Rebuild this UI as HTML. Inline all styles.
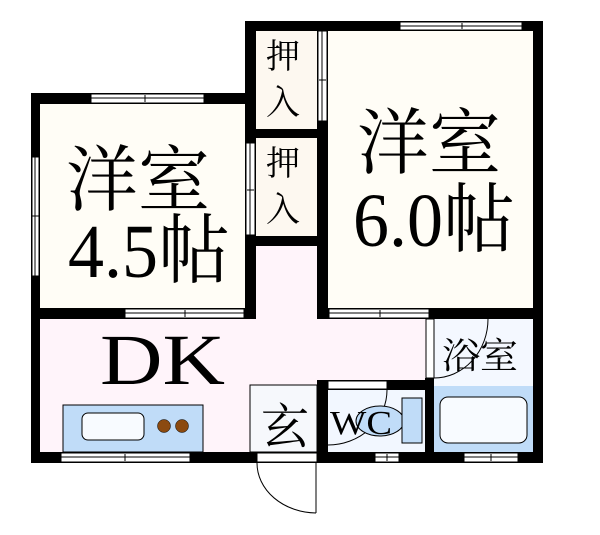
<!DOCTYPE html>
<html><head><meta charset="utf-8"><style>
html,body{margin:0;padding:0;background:#fff;}
svg{display:block;}
.j{font-family:"Liberation Serif","Noto Serif CJK SC",serif;fill:#000;}
</style></head><body>
<svg width="600" height="535" viewBox="0 0 600 535" xmlns="http://www.w3.org/2000/svg">
<rect x="40" y="104" width="205" height="204" fill="#fffdf6"/>
<rect x="328" y="31" width="205" height="277" fill="#fffdf6"/>
<rect x="256" y="31" width="61" height="98" fill="#fdf8f0"/>
<rect x="256" y="138" width="61" height="98" fill="#fdf8f0"/>
<rect x="40" y="319" width="386" height="133" fill="#fff4fa"/>
<rect x="256" y="246" width="61" height="73" fill="#fff4fa"/>
<rect x="434" y="319" width="99" height="67" fill="#f4f8ff"/>
<rect x="434" y="386" width="99" height="66" fill="#c0dcf8"/>
<rect x="328" y="390" width="97" height="62" fill="#f2f7ff"/>
<rect x="250" y="385" width="67" height="67" fill="#f6f8fc" stroke="#000" stroke-width="1"/>

<g fill="#000">
<rect x="245" y="21" width="298" height="10"/>
<rect x="31" y="93" width="225" height="11"/>
<rect x="31" y="93" width="9" height="370"/>
<rect x="31" y="452" width="512" height="11"/>
<rect x="533" y="21" width="10" height="442"/>
<rect x="245" y="21" width="11" height="298"/>
<rect x="256" y="129" width="61" height="9"/>
<rect x="245" y="236" width="83" height="10"/>
<rect x="317" y="21" width="11" height="298"/>
<rect x="31" y="308" width="225" height="11"/>
<rect x="317" y="308" width="226" height="11"/>
<rect x="425" y="378" width="9" height="74"/>
<rect x="317" y="380" width="117" height="10"/>
<rect x="317" y="380" width="11" height="83"/>
</g>

<g fill="#fff" stroke="#000" stroke-width="1">
<rect x="91" y="94" width="113" height="9"/>
<rect x="32" y="157" width="7" height="119"/>
<rect x="400" y="22" width="122" height="8"/>
<rect x="125" y="309" width="119" height="9"/>
<rect x="329" y="309" width="100" height="9"/>
<rect x="246" y="143" width="9" height="92"/>
<rect x="318" y="31" width="9" height="90"/>
<rect x="61" y="453" width="129" height="9"/>
<rect x="375" y="453" width="24" height="9"/>
<rect x="464" y="453" width="54" height="9"/>
<rect x="257" y="453" width="60" height="9"/>
<rect x="328" y="381" width="59" height="8"/>
<rect x="426" y="319" width="8" height="59"/>
</g>
<g stroke="#000" stroke-width="1" fill="none">
<line x1="91" y1="98" x2="204" y2="98"/><line x1="145" y1="95" x2="145" y2="102"/>
<line x1="35" y1="157" x2="35" y2="276"/><line x1="32" y1="216" x2="39" y2="216"/>
<line x1="400" y1="26" x2="522" y2="26"/><line x1="462" y1="23" x2="462" y2="29"/>
<line x1="125" y1="313" x2="244" y2="313"/><line x1="185" y1="310" x2="185" y2="317"/>
<line x1="329" y1="313" x2="429" y2="313"/><line x1="380" y1="310" x2="380" y2="317"/>
<line x1="250" y1="143" x2="250" y2="235"/><line x1="247" y1="190" x2="254" y2="190"/>
<line x1="322" y1="31" x2="322" y2="121"/><line x1="319" y1="80" x2="326" y2="80"/>
<line x1="61" y1="457" x2="190" y2="457"/><line x1="125" y1="454" x2="125" y2="461"/>
<line x1="375" y1="457" x2="399" y2="457"/><line x1="387" y1="454" x2="387" y2="461"/>
<line x1="464" y1="457" x2="518" y2="457"/><line x1="491" y1="454" x2="491" y2="461"/>
<path d="M257 463 A60 50 0 0 0 316 513"/><line x1="316" y1="463" x2="316" y2="513"/>
<path d="M387 390 A59 55 0 0 1 328 445"/>
<path d="M488 319 A54 59 0 0 1 434 378"/>
</g>

<rect x="63" y="405" width="140" height="47" fill="#c0dcf8" stroke="#000" stroke-width="1"/>
<rect x="82" y="413" width="62" height="27" rx="6" fill="#f8fbff" stroke="#000" stroke-width="1"/>
<circle cx="164" cy="426" r="6.5" fill="#8b4a10" stroke="#000" stroke-width="0.5"/>
<circle cx="182" cy="426" r="6.5" fill="#8b4a10" stroke="#000" stroke-width="0.5"/>
<rect x="440" y="397" width="87" height="46" rx="8" fill="#f8fbff" stroke="#000" stroke-width="1"/>
<ellipse cx="380" cy="421" rx="24" ry="15" fill="#c0dcf8" stroke="#000" stroke-width="1"/>
<rect x="402" y="398" width="20" height="45" fill="#c0dcf8" stroke="#000" stroke-width="1"/>

<text class="j" x="66" y="205" font-size="72">洋室</text>
<text class="j" x="68" y="277" font-size="76" textLength="162" lengthAdjust="spacingAndGlyphs">4.5帖</text>
<text class="j" x="357" y="168" font-size="72">洋室</text>
<text class="j" x="353" y="246" font-size="76" textLength="162" lengthAdjust="spacingAndGlyphs">6.0帖</text>
<text class="j" x="266" y="68" font-size="34">押</text>
<text class="j" x="266" y="114" font-size="34">入</text>
<text class="j" x="266" y="175" font-size="34">押</text>
<text class="j" x="266" y="221" font-size="34">入</text>
<text class="j" x="100" y="384" font-size="72" textLength="125" lengthAdjust="spacingAndGlyphs">DK</text>
<text class="j" x="261" y="443" font-size="48">玄</text>
<text class="j" x="330" y="434" font-size="34" textLength="62" lengthAdjust="spacingAndGlyphs">WC</text>
<text class="j" x="442" y="368" font-size="36" textLength="76" lengthAdjust="spacingAndGlyphs">浴室</text>
</svg>
</body></html>
